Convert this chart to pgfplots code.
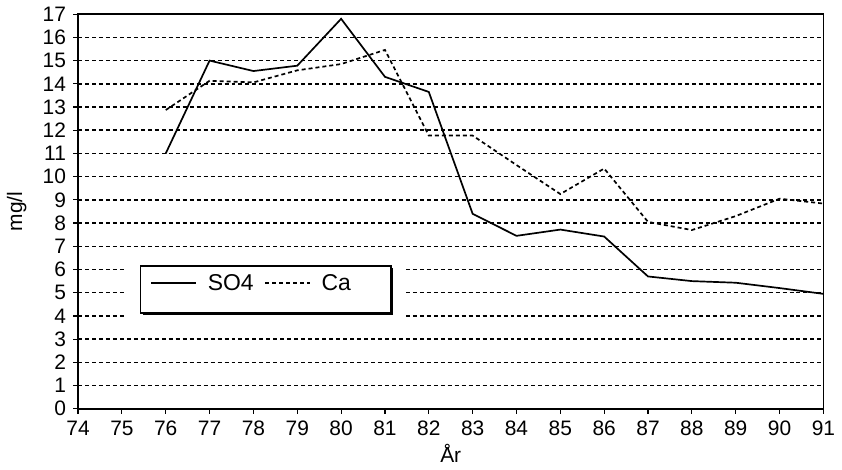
\documentclass[border=0pt]{standalone}
\usepackage{pgfplots}
\pgfplotsset{compat=1.18}
\usetikzlibrary{shadows}
\usepackage{fontspec}
\setmainfont{Liberation Sans}
\makeatletter
\tikzset{no preactions/.code={\let\tikz@preactions\pgfutil@empty}}
\makeatother
\begin{document}
\fontsize{21bp}{25bp}\selectfont
\begin{tikzpicture}
\begin{axis}[
 scale only axis, width=748bp, height=396bp,
 xmin=74, xmax=91, ymin=0, ymax=17,
 xtick={74,...,91}, ytick={0,...,17},
 tick align=outside, xtick pos=bottom, ytick pos=left,
 major tick length=5bp,
 tick style={line width=1.2bp, black},
 axis line style={line width=1.6bp},
 ymajorgrids, grid style={black, line width=1.5bp, dash pattern=on 4bp off 3bp},
 /pgf/number format/assume math mode=true,
 tick label style={font=\fontsize{21bp}{25bp}\selectfont},
 label style={font=\fontsize{21bp}{25bp}\selectfont},
 xlabel={År}, ylabel={mg/l},
 xlabel style={yshift=6bp},
 ylabel style={yshift=2bp},
 legend columns=2,
 legend cell align=left,
 legend image code/.code={\draw[#1, no preactions] (0bp,6.6bp) -- (45bp,6.6bp);},
 legend style={at={(0.083,0.364)}, anchor=north west, draw=black, line width=1.5bp, fill=white,
   preaction={draw=white, line width=30bp},
   drop shadow={shadow xshift=2bp, shadow yshift=-2bp, opacity=1, fill=black},
   inner xsep=10bp, inner ysep=1bp, column sep=3bp,
   font=\fontsize{23bp}{27bp}\selectfont,
   nodes={inner xsep=7.7bp, inner ysep=7.7bp, text depth=14bp}},
]
\addplot[black, line width=1.7bp] coordinates {(76,11.0)(77,15.0)(78,14.55)(79,14.78)(80,16.8)(81,14.3)(82,13.65)(83,8.4)(84,7.45)(85,7.72)(86,7.42)(87,5.7)(88,5.5)(89,5.43)(90,5.2)(91,4.95)};
\addlegendentry{SO4}
\addplot[black, line width=1.7bp, dash pattern=on 4bp off 3bp] coordinates {(76,12.87)(77,14.13)(78,14.06)(79,14.58)(80,14.85)(81,15.46)(82,11.77)(83,11.77)(84,10.5)(85,9.25)(86,10.35)(87,8.05)(88,7.7)(89,8.3)(90,9.05)(91,8.84)};
\addlegendentry[text width=52bp]{Ca}
\end{axis}
\end{tikzpicture}
\end{document}
